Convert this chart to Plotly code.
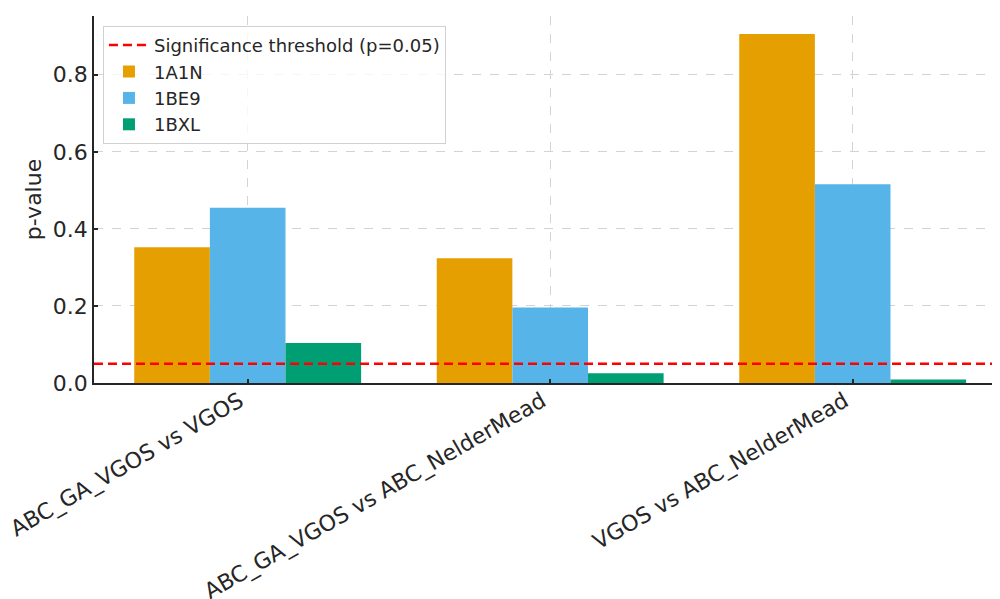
import plotly.graph_objects as go

comparisons = ["ABC_GA_VGOS vs VGOS", "ABC_GA_VGOS vs ABC_NelderMead", "VGOS vs ABC_NelderMead"]
series_names = ["1A1N", "1BE9", "1BXL"]
p_1A1N = [0.352, 0.324, 0.906]
p_1BE9 = [0.455, 0.196, 0.516]
p_1BXL = [0.104, 0.025, 0.009]
threshold = 0.05
colors = ["#E69F00", "#56B4E9", "#009E73"]

font_family = "DejaVu Sans, Verdana, sans-serif"
fig = go.Figure()

fig.add_trace(go.Scatter(
    x=[None], y=[None], mode="lines", name="Significance threshold (p=0.05)",
    line=dict(color="#ff0000", width=2.5, dash="9px,5px"),
))
for name, vals, col in zip(series_names, [p_1A1N, p_1BE9, p_1BXL], colors):
    fig.add_trace(go.Bar(
        x=list(range(len(comparisons))), y=vals, name=name,
        marker=dict(color=col, line=dict(width=0)),
    ))

fig.add_shape(type="line", xref="x domain", yref="y", x0=0, x1=1,
              y0=threshold, y1=threshold,
              line=dict(color="#ff0000", width=2.5, dash="9px,5px"), layer="above")

fig.update_layout(
    width=1000, height=599,
    margin=dict(l=86, r=8, t=8, b=224, autoexpand=False),
    paper_bgcolor="white", plot_bgcolor="white",
    barmode="group", bargap=0.25, bargroupgap=0,
    font=dict(family=font_family, color="#262626"),
    showlegend=True,
    legend=dict(
        x=0.0099, y=0.973, xanchor="left", yanchor="top",
        bgcolor="rgba(255,255,255,0.8)", bordercolor="#d0d0d0", borderwidth=1,
        font=dict(size=18, color="#262626"),
        tracegroupgap=1, itemwidth=40,
    ),
    xaxis=dict(
        range=[-0.508, 2.487], automargin=False,
        tickmode="array", tickvals=list(range(len(comparisons))), ticktext=comparisons,
        tickangle=-30, tickfont=dict(size=22, color="#262626"),
        ticklabelshift=-8, ticklabelstandoff=-5, ticklabeloverflow="allow",
        showline=True, linecolor="#262626", linewidth=1.5, mirror=False,
        ticks="inside", ticklen=4, tickcolor="#262626", tickwidth=1.5,
        showgrid=True, gridcolor="#d3d3d3", griddash="dash", gridwidth=1,
        zeroline=False,
    ),
    yaxis=dict(
        range=[0, 0.9525], automargin=False,
        tickmode="array", tickvals=[0, 0.2, 0.4, 0.6, 0.8],
        ticktext=["0.0", "0.2", "0.4", "0.6", "0.8"],
        tickfont=dict(size=22, color="#262626"),
        title=dict(text="p-value", font=dict(size=22, color="#262626"), standoff=5),
        showline=True, linecolor="#262626", linewidth=1.5, mirror=False,
        ticks="inside", ticklen=4, tickcolor="#262626", tickwidth=1.5,
        showgrid=True, gridcolor="#d3d3d3", griddash="dash", gridwidth=1,
        zeroline=False,
    ),
)

fig.write_html("out.html")
